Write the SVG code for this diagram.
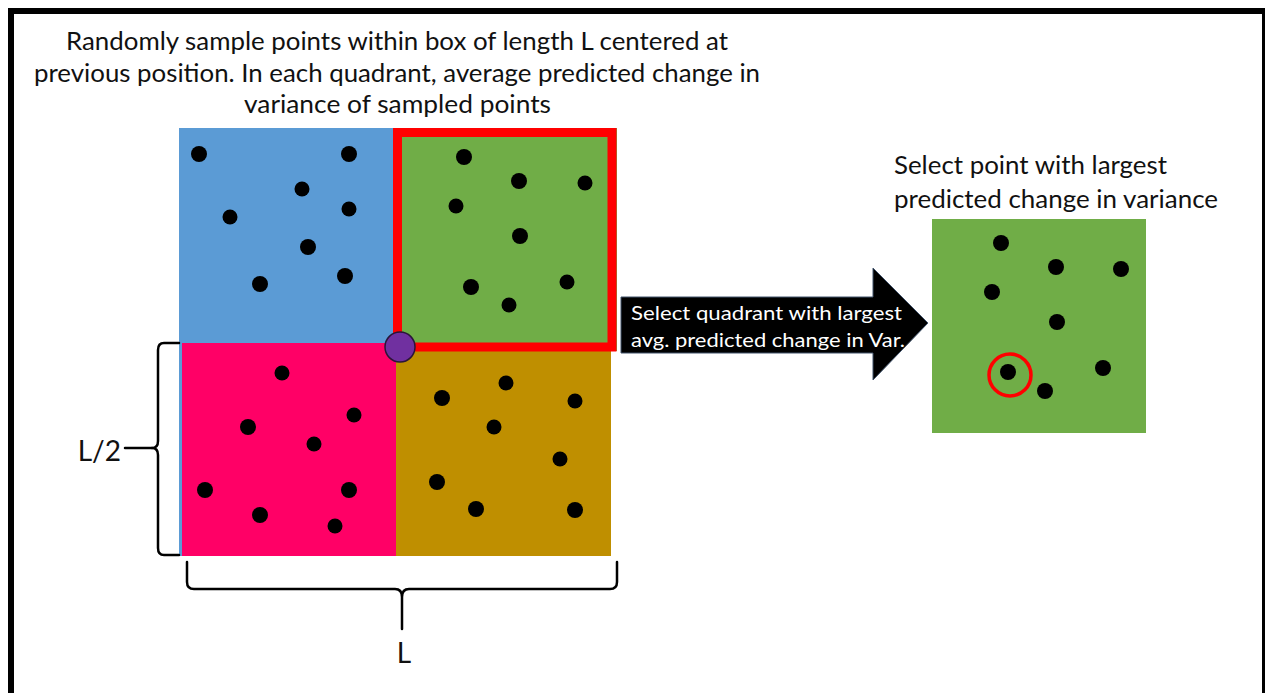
<svg xmlns="http://www.w3.org/2000/svg" width="1265" height="693" viewBox="0 0 1265 693">
  <style>
    .txt { font-family: Lato, "Open Sans", "Liberation Sans", sans-serif; fill: #111; }
    .big { font-size: 25px; }
    .lbl { font-size: 28px; }
    .arrowtxt { font-family: Lato, "Open Sans", "Liberation Sans", sans-serif; font-size: 19px; fill: #fff; }
    .dot { fill: #000; }
    .brace { fill: none; stroke: #000; stroke-width: 2.5; stroke-linejoin: round; stroke-linecap: round; }
  </style>

  <!-- page frame -->
  <rect x="0" y="0" width="1265" height="693" fill="#fff"/>
  <rect x="11" y="11" width="1254" height="700" fill="none" stroke="#000" stroke-width="6"/>

  <!-- heading -->
  <g id="heading" class="txt big" text-anchor="middle">
    <text x="397" y="50" textLength="662" lengthAdjust="spacingAndGlyphs">Randomly sample points within box of length L centered at</text>
    <text x="397" y="82" textLength="726" lengthAdjust="spacingAndGlyphs">previous position. In each quadrant, average predicted change in</text>
    <text x="397.5" y="113" textLength="307" lengthAdjust="spacingAndGlyphs">variance of sampled points</text>
  </g>

  <!-- sampling box split into four quadrants -->
  <g id="quadrant-upper-left">
    <rect x="179" y="128" width="214" height="428" fill="#5B9BD5"/>
    <circle class="dot" cx="199" cy="154" r="8"/>
    <circle class="dot" cx="349" cy="154" r="8"/>
    <circle class="dot" cx="302" cy="189" r="7.5"/>
    <circle class="dot" cx="230" cy="217" r="7.5"/>
    <circle class="dot" cx="349" cy="209" r="7.5"/>
    <circle class="dot" cx="308" cy="247" r="8"/>
    <circle class="dot" cx="345" cy="276" r="8"/>
    <circle class="dot" cx="260" cy="284" r="8"/>
  </g>

  <g id="quadrant-lower-left">
    <rect x="182" y="343" width="214" height="213" fill="#FF0066"/>
    <circle class="dot" cx="282" cy="373" r="7.5"/>
    <circle class="dot" cx="354" cy="415" r="7.5"/>
    <circle class="dot" cx="248" cy="427" r="8"/>
    <circle class="dot" cx="314" cy="444" r="7.5"/>
    <circle class="dot" cx="205" cy="490" r="8"/>
    <circle class="dot" cx="349" cy="490" r="8"/>
    <circle class="dot" cx="260" cy="515" r="8"/>
    <circle class="dot" cx="335" cy="526" r="7.5"/>
  </g>

  <g id="quadrant-lower-right">
    <rect x="396" y="343" width="215" height="213" fill="#BF8F00"/>
    <circle class="dot" cx="506" cy="383" r="7.5"/>
    <circle class="dot" cx="442" cy="398" r="8"/>
    <circle class="dot" cx="575" cy="401" r="7.5"/>
    <circle class="dot" cx="494" cy="427" r="7.5"/>
    <circle class="dot" cx="560" cy="459" r="7.5"/>
    <circle class="dot" cx="437" cy="482" r="8"/>
    <circle class="dot" cx="476" cy="509" r="8"/>
    <circle class="dot" cx="575" cy="510" r="8"/>
  </g>

  <g id="quadrant-upper-right">
    <rect x="393" y="128" width="224" height="223" fill="#70AD47"/>
    <rect x="397.5" y="132.5" width="214.5" height="214.5" fill="none" stroke="#FF0000" stroke-width="9"/>
    <circle class="dot" cx="464" cy="157" r="8"/>
    <circle class="dot" cx="519" cy="181" r="8"/>
    <circle class="dot" cx="585" cy="183" r="7.5"/>
    <circle class="dot" cx="456" cy="206" r="7.5"/>
    <circle class="dot" cx="520" cy="236" r="8"/>
    <circle class="dot" cx="471" cy="287" r="8"/>
    <circle class="dot" cx="567" cy="282" r="7.5"/>
    <circle class="dot" cx="509" cy="305" r="7.5"/>
  </g>

  <!-- previous position at the box centre -->
  <g id="previous-position">
    <circle cx="400" cy="347" r="15" fill="#7030A0" stroke="#2A1538" stroke-width="1.5"/>
  </g>

  <!-- dimension braces -->
  <g id="brace-half-length">
    <path class="brace" d="M179,343 H164 Q158,343 158,350 V441 Q158,448 152,448 Q158,448 158,455 V548 Q158,555 164,555 H179"/>
    <line class="brace" x1="125" y1="448" x2="152" y2="448"/>
    <text class="txt lbl" x="121" y="461" text-anchor="end">L/2</text>
  </g>

  <g id="brace-length">
    <path class="brace" d="M187,562 V582 Q187,589 194,589 H395 Q402,589 402,597 V629 M402,597 Q402,589 409,589 H610 Q617,589 617,582 V562"/>
    <text class="txt lbl" x="404" y="663" text-anchor="middle">L</text>
  </g>

  <!-- connector: quadrant selection -->
  <g id="connectors">
    <path d="M621,297 H873 V268 L928,323 L873,380 V353 H621 Z" fill="#000" stroke="#41536B" stroke-width="1"/>
    <text class="arrowtxt" x="631" y="320" textLength="271" lengthAdjust="spacingAndGlyphs">Select quadrant with largest</text>
    <text class="arrowtxt" x="631" y="347" textLength="274" lengthAdjust="spacingAndGlyphs">avg. predicted change in Var.</text>
  </g>

  <!-- chosen quadrant with best point -->
  <g id="selected-quadrant">
    <text class="txt big" x="894" y="174" textLength="273" lengthAdjust="spacingAndGlyphs">Select point with largest</text>
    <text class="txt big" x="894" y="208" textLength="324" lengthAdjust="spacingAndGlyphs">predicted change in variance</text>
    <rect x="932" y="219" width="214" height="214" fill="#70AD47"/>
    <circle class="dot" cx="1001" cy="243" r="8"/>
    <circle class="dot" cx="1056" cy="267" r="8"/>
    <circle class="dot" cx="1121" cy="269" r="8"/>
    <circle class="dot" cx="992" cy="292" r="8"/>
    <circle class="dot" cx="1057" cy="322" r="8"/>
    <circle class="dot" cx="1103" cy="368" r="8"/>
    <circle class="dot" cx="1008" cy="372" r="8"/>
    <circle class="dot" cx="1045" cy="391" r="8"/>
    <circle cx="1010" cy="375" r="21" fill="none" stroke="#FF0000" stroke-width="3.5"/>
  </g>
</svg>
